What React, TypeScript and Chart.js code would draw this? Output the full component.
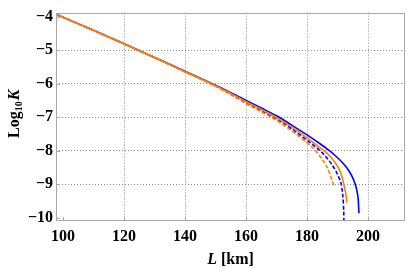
import React, { useEffect, useRef } from "react";
import { Chart, registerables } from "chart.js";

Chart.register(...registerables);

const xTicks = [100, 120, 140, 160, 180, 200];
const yTicks = [-10, -9, -8, -7, -6, -5, -4];

const blueSolidL = [97.7, 100, 110, 120, 130, 140, 150, 155, 160, 165, 170, 175, 180, 184, 187, 189, 191, 192.5, 193.7, 194.7, 195.5, 196.1, 196.5, 196.8, 197.0];
const blueSolidK = [-3.93, -4.02, -4.41, -4.81, -5.22, -5.63, -6.05, -6.27, -6.5, -6.73, -6.96, -7.24, -7.53, -7.78, -7.98, -8.13, -8.3, -8.45, -8.6, -8.76, -8.93, -9.1, -9.28, -9.5, -9.87];

const blueDashedL = [97.7, 100, 110, 120, 130, 140, 150, 155, 160, 165, 170, 175, 180, 182.5, 184.5, 186.5, 188, 189.5, 190.5, 191.2, 191.6, 191.85, 192.0, 192.1];
const blueDashedK = [-3.93, -4.02, -4.41, -4.81, -5.22, -5.64, -6.07, -6.31, -6.56, -6.8, -7.05, -7.35, -7.69, -7.87, -8.02, -8.22, -8.4, -8.62, -8.82, -9.0, -9.25, -9.5, -9.8, -10.2];

const orangeSolidL = [97.7, 100, 110, 120, 130, 140, 150, 155, 160, 165, 170, 175, 180, 183, 186, 188, 189.5, 190.5, 191.3, 191.9, 192.4, 192.75, 193.0];
const orangeSolidK = [-3.93, -4.02, -4.41, -4.81, -5.22, -5.64, -6.06, -6.29, -6.54, -6.77, -7.02, -7.3, -7.62, -7.83, -8.03, -8.22, -8.4, -8.56, -8.74, -8.95, -9.15, -9.33, -9.55];

const orangeDashedL = [97.7, 100, 110, 120, 130, 140, 150, 155, 160, 165, 170, 175, 180, 182.6, 185, 186.3, 187.3, 188.0, 188.5, 188.9];
const orangeDashedK = [-3.93, -4.02, -4.41, -4.81, -5.22, -5.65, -6.08, -6.33, -6.6, -6.84, -7.1, -7.41, -7.77, -7.98, -8.27, -8.45, -8.65, -8.84, -8.97, -9.09];

const BLUE = "#0000ff";
const ORANGE = "#ff8000";
const FONT = '"Liberation Serif", "Times New Roman", serif';

const pts = (xs: number[], ys: number[]) => xs.map((x, i) => ({ x, y: ys[i] }));

const framePlugin = {
  id: "framePlugin",
  afterDraw(chart: any) {
    const { ctx, chartArea } = chart;
    const { left, right, top, bottom } = chartArea;
    const xs = chart.scales.x;
    const ys = chart.scales.y;
    ctx.save();
    ctx.strokeStyle = "#a8a8a8";
    ctx.lineWidth = 1;
    ctx.strokeRect(Math.round(left) + 0.5, Math.round(top) + 0.5, Math.round(right - left) - 1, Math.round(bottom - top) - 1);
    ctx.beginPath();
    xTicks.forEach((v) => {
      const px = Math.round(xs.getPixelForValue(v)) + 0.5;
      ctx.moveTo(px, bottom);
      ctx.lineTo(px, bottom - 4);
    });
    yTicks.forEach((v) => {
      const py = Math.round(ys.getPixelForValue(v)) + 0.5;
      ctx.moveTo(left, py);
      ctx.lineTo(left + 4, py);
    });
    ctx.stroke();

    // x title: L [km]
    ctx.fillStyle = "#000";
    ctx.textBaseline = "alphabetic";
    const cx = (left + right) / 2;
    const fI = `italic bold 16px ${FONT}`;
    const fB = `bold 16px ${FONT}`;
    ctx.font = fI;
    const wL = ctx.measureText("L").width;
    ctx.font = fB;
    const wR = ctx.measureText(" [km]").width;
    const sx = cx - (wL + wR) / 2;
    const by = 264;
    ctx.font = fI;
    ctx.fillText("L", sx, by);
    ctx.font = fB;
    ctx.fillText(" [km]", sx + wL, by);

    // y title: Log10 K
    const fSub = `bold 10px ${FONT}`;
    ctx.font = fB;
    const w1 = ctx.measureText("Log").width;
    ctx.font = fSub;
    const w2 = ctx.measureText("10").width;
    ctx.font = fI;
    const w3 = ctx.measureText("K").width;
    const total = w1 + w2 + 1 + w3;
    ctx.translate(19, (top + bottom) / 2 - 3);
    ctx.rotate(-Math.PI / 2);
    let tx = -total / 2;
    ctx.font = fB;
    ctx.fillText("Log", tx, 0);
    tx += w1;
    ctx.font = fSub;
    ctx.fillText("10", tx, 3);
    tx += w2 + 1;
    ctx.font = fI;
    ctx.fillText("K", tx, 0);
    ctx.restore();
  },
};

export default function App() {
  const ref = useRef<HTMLCanvasElement | null>(null);
  useEffect(() => {
    if (!ref.current) return;
    const lineDs = (label: string, xs: number[], ys: number[], color: string, dashed: boolean) => ({
      label,
      data: pts(xs, ys),
      borderColor: color,
      backgroundColor: color,
      borderWidth: 1.6,
      borderDash: dashed ? [4, 2] : [],
      pointRadius: 0,
      fill: false,
      cubicInterpolationMode: "monotone" as const,
    });
    const chart = new Chart(ref.current, {
      type: "line",
      data: {
        datasets: [
          lineDs("orange dashed", orangeDashedL, orangeDashedK, ORANGE, true),
          lineDs("orange solid", orangeSolidL, orangeSolidK, ORANGE, false),
          lineDs("blue dashed", blueDashedL, blueDashedK, BLUE, true),
          lineDs("blue solid", blueSolidL, blueSolidK, BLUE, false),
        ],
      },
      options: {
        animation: false,
        responsive: true,
        maintainAspectRatio: false,
        layout: { padding: { top: 5, right: 2, left: 0, bottom: 0 } },
        plugins: { legend: { display: false }, tooltip: { enabled: false } },
        scales: {
          x: {
            type: "linear",
            min: 97.7,
            max: 212.1,
            afterBuildTicks: (s: any) => {
              s.ticks = xTicks.map((v) => ({ value: v }));
            },
            afterFit: (s: any) => {
              s.height = 47;
            },
            grid: {
              drawTicks: false,
              color: (c: any) => (c.tick && c.tick.value === 100 ? "rgba(0,0,0,0)" : "#8c8c8c"),
              lineWidth: 1,
            },
            border: { display: false, dash: [1, 2] },
            ticks: {
              padding: 6,
              color: "#000",
              font: { family: FONT, size: 16, weight: "bold" },
              maxRotation: 0,
              autoSkip: false,
              callback: (v: any) => String(v),
            },
          },
          y: {
            type: "linear",
            min: -10.1,
            max: -3.88,
            afterBuildTicks: (s: any) => {
              s.ticks = yTicks.map((v) => ({ value: v }));
            },
            afterFit: (s: any) => {
              s.width = 56;
            },
            grid: {
              drawTicks: false,
              color: (c: any) =>
                c.tick && (c.tick.value === -10 || c.tick.value === -4) ? "rgba(0,0,0,0)" : "#8c8c8c",
              lineWidth: 1,
            },
            border: { display: false, dash: [1, 2] },
            ticks: {
              padding: 3,
              color: "#000",
              font: { family: FONT, size: 16, weight: "bold" },
              autoSkip: false,
              callback: (v: any) => (Number(v) < 0 ? "\u2212" : "") + Math.abs(Number(v)),
            },
          },
        },
      },
      plugins: [framePlugin],
    });
    return () => chart.destroy();
  }, []);
  return (
    <div style={{ position: "fixed", left: 0, top: 0, width: 407, height: 268 }}>
      <canvas ref={ref} />
    </div>
  );
}
